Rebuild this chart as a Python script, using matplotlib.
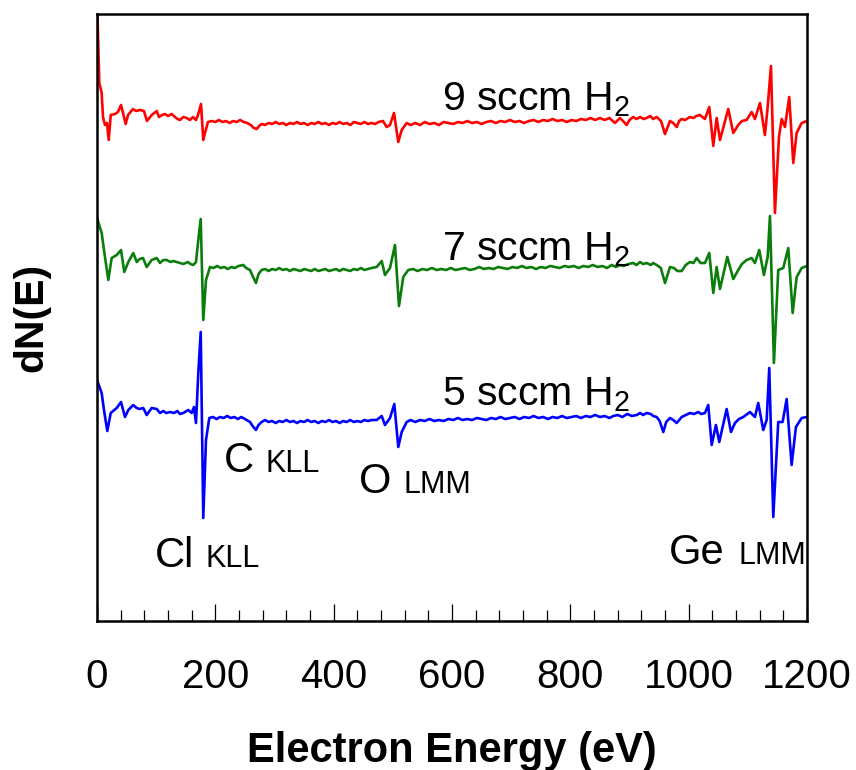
import matplotlib
matplotlib.use("Agg")
import matplotlib.pyplot as plt
from matplotlib.ticker import MultipleLocator

plt.rcParams["font.family"] = ["Liberation Sans", "DejaVu Sans"]
plt.rcParams["mathtext.default"] = "regular"

# Auger spectra (derivative mode): (energy in eV, dN(E) in arbitrary units about each baseline)
spectrum_9 = [
    (0, 125), (3.9, 39), (7.9, 29), (10.1, 5), (13.5, -3), (16.9, -1), (19.8, -18), (23.2, 7),
    (30.4, 8), (35.5, 10), (40.6, 17), (43.9, 9), (48.5, -2), (52.4, 7), (60.8, 13), (66, 11),
    (72.7, 12), (79.4, 11), (84.5, 1), (92.4, 7), (100.9, 11), (104.8, 5), (110, 7), (114.9, 8),
    (120, 6), (126.2, 8), (131.8, 5), (136, 3), (140.3, 2), (146, 5), (151.6, 4), (157, 2),
    (162.2, 5), (167.3, 2), (170.7, 7), (175.8, 18), (179.6, -18), (182.5, -11), (187.6, 0),
    (194, 1), (200, 0), (206, 2), (212, 0), (218, 1), (224, -1), (230, 1), (236, 0), (242, 2),
    (248, 0), (254, -1), (260, -3), (265, -6), (269.9, -7), (274, -4), (278.3, -2), (284, -3),
    (290, -1), (296, -2), (302, 0), (308, -2), (314, -1), (320, -3), (326, -1), (332, -2),
    (338, 0), (344, -2), (350, -1), (356, -3), (362, -1), (368, -2), (374, 0), (380, -2),
    (386, -1), (392, -3), (398, -1), (404, -2), (410, 0), (416, -2), (422, -1), (428, -3),
    (434, 0), (440, -1), (446, -2), (452, 0), (458, -2), (464, -1), (470, -2), (476, 0),
    (483.3, 1), (489.6, -5), (495.2, -3), (502.0, 9), (509.2, -20), (515.0, -8), (523.4, -1),
    (530, -3), (538, -1), (546, -3), (554, 0), (562, -2), (570, -1), (578, -3), (586, 0),
    (594, -1), (602, -2), (610, 0), (618, -1), (626, 1), (634, -1), (642, 0), (650, -2),
    (658, 0), (666, 1), (674, -1), (682, 1), (690, 0), (698, 2), (706, 0), (714, 1), (722, -1),
    (730, 1), (738, 2), (746, 0), (754, 2), (762, 1), (770, 3), (778, 1), (786, 2), (794, 0),
    (802, 2), (810, 1), (818, 3), (826, 2), (834, 4), (842, 2), (850, 4), (858, 2), (866, 4),
    (875.4, -1), (883.9, 4), (889, 1), (895.2, -3), (900, 2), (906.4, 5), (912, 3), (918, 5),
    (924, 3), (929, 4), (935, 6), (940, 3), (945.9, 5), (953.2, 1), (960.0, -12), (968.4, 1),
    (974, -1), (979.7, -5), (984, 1), (988.2, 3), (994, 2), (1002.2, 5), (1008, 4), (1013, 6),
    (1019.1, 7), (1027.5, 3), (1034.8, 15), (1041.6, -24), (1047.3, 4), (1052.9, -18),
    (1066.9, 13), (1075.4, -11), (1083.8, -3), (1090, 1), (1098.0, 2), (1106.4, 10),
    (1112.0, 3), (1120.5, 19), (1128.9, -13), (1133.5, 15), (1139.1, 56), (1145.8, -91),
    (1152.6, -15), (1157.2, 3), (1162.7, -5), (1170.0, 25), (1176.8, -41), (1182.5, -11),
    (1191.0, -1), (1200.0, 1),
]

spectrum_7 = [
    (0, 50), (7.9, 35), (11.8, 18), (19.1, -12), (24.8, 10), (33.3, 13), (40.6, 18), (46.1, -4),
    (52.9, 6), (61.3, 15), (67.1, 6), (72, 9), (77.7, 10), (84.0, 1), (92.4, 8), (100.9, 10),
    (106.5, 5), (112, 8), (117.8, 8), (124, 6), (129, 7), (134.7, 6), (140, 5), (145.8, 4),
    (153.8, 6), (158, 4), (162.7, 3), (167.3, 6), (171.2, 28), (175.3, 49), (179.6, -52),
    (184.2, -12), (191.0, 1), (197, 0), (203, 2), (209, 0), (215, 1), (221, -1), (227, 1),
    (233, 0), (239, 2), (247.2, 3), (252, 0), (258.6, -2), (263, -8), (268.7, -15), (273, -6),
    (278.3, -2), (284, -1), (290, -3), (296, -1), (302, -2), (308, 0), (314, -2), (320, -1),
    (326, -3), (332, -1), (338, -2), (344, -3), (350, -1), (356, -2), (362, -3), (368, -1),
    (374, -3), (380, -2), (386, -1), (392, -3), (398, -2), (404, -1), (410, -3), (416, -1),
    (422, -2), (428, -3), (434, -1), (440, -2), (446, 0), (452, -2), (458, -1), (464, 0),
    (472.7, 1), (481.2, 7), (486.7, -7), (495.2, 0), (503.6, 23), (510.4, -38), (517.6, -9),
    (526.1, -2), (534, -1), (542, -3), (550, -1), (558, -2), (566, 0), (574, -2), (582, -1),
    (590, -2), (598, 0), (606, -2), (614, -1), (622, 0), (630, -2), (638, -1), (646, 1),
    (654, -1), (662, 0), (670, -1), (678, 1), (686, 0), (694, -1), (702, 1), (710, 0), (718, 2),
    (726, 0), (734, 1), (742, -1), (750, 1), (758, 0), (766, 2), (774, 1), (782, 0), (790, 2),
    (798, 1), (806, 2), (814, 0), (822, 2), (830, 1), (838, 3), (846, 1), (854, 2), (862, 0),
    (870, 3), (877, 1), (883.9, 3), (890, 2), (898, 4), (906.4, 5), (912, 3), (917.7, 6),
    (923, 4), (929.0, 5), (936, 3), (940, 5), (945.9, 3), (953, 0), (960.0, -15), (968.4, 1),
    (975, 0), (981, -3), (988.2, -3), (995, 3), (1002.2, 6), (1008, 5), (1013.5, 10),
    (1020, 5), (1027.5, 5), (1034.8, 15), (1041.6, -25), (1047.3, 1), (1052.9, -21),
    (1065.3, 11), (1075.4, -11), (1083.8, -2), (1090, 4), (1098.0, 8), (1106.4, 10),
    (1112.0, 5), (1119.3, 18), (1127.2, -7), (1133.5, 11), (1137.4, 52), (1144.1, -95),
    (1151.4, -2), (1159.9, 0), (1168.3, 20), (1175.8, -45), (1182.5, -9), (1191.0, 0),
    (1200.0, 2),
]

spectrum_5 = [
    (0, 38), (7.9, 25), (11.8, 8), (17.4, -13), (23.2, 5), (33.3, 10), (40.6, 16), (47.3, 1),
    (52.9, 8), (61.3, 13), (67.1, 10), (72, 9), (78.2, 10), (84.0, 3), (92.4, 10), (100.9, 9),
    (106.5, 5), (112, 7), (117, 5), (123.4, 6), (130, 5), (136, 7), (140, 4), (145.8, 5),
    (154.3, 8), (160.0, 5), (163.9, 11), (167.3, -5), (171.2, 45), (175.3, 86), (179.6, -100),
    (184.2, -22), (189.8, 0), (196, 1), (202, -1), (208, 1), (214, 0), (220, 2), (226, 0),
    (232, 1), (238, -1), (244, 1), (250, -1), (258.6, -4), (263, -8), (268.7, -12), (273, -7),
    (278.3, -4), (284, -2), (290, -4), (296, -3), (302, -5), (308, -3), (314, -4), (320, -2),
    (326, -4), (332, -3), (338, -5), (344, -3), (350, -4), (356, -2), (362, -4), (368, -3),
    (374, -5), (380, -3), (386, -4), (392, -2), (398, -4), (404, -3), (410, -5), (416, -3),
    (422, -4), (428, -2), (434, -4), (440, -3), (446, -4), (452, -2), (458, -3), (464, -2),
    (472.7, -2), (481.2, 2), (486.7, -7), (495.2, 0), (502.5, 14), (509.2, -29), (515.0, -14),
    (523.4, -4), (530, -2), (538, -4), (546, -2), (554, -3), (562, -1), (570, -3), (578, -2),
    (586, -3), (594, -1), (602, -2), (610, 0), (618, -2), (626, -1), (634, -2), (642, 0),
    (650, -1), (658, -2), (666, 0), (674, -1), (682, 1), (690, -1), (698, 0), (706, 1),
    (714, -1), (722, 1), (730, 0), (738, 2), (746, 0), (754, 1), (762, -1), (770, 1), (778, 0),
    (786, 2), (794, 0), (802, 1), (810, 2), (818, 0), (826, 2), (834, 1), (842, 3), (850, 1),
    (858, 2), (866, 0), (872.6, 2), (880, 3), (888, 1), (896, 4), (904, 2), (912.1, 3),
    (918, 5), (923, 3), (929.0, 5), (936, 4), (940, 2), (945.9, 1), (951, -3), (957.1, -14),
    (962, -4), (968.4, 0), (974, -2), (979.7, -5), (988.2, 1), (995, 3), (1002.2, 5),
    (1009, 4), (1016.2, 6), (1021, 4), (1027.5, 5), (1033.1, 13), (1038.9, -27), (1046.1, -7),
    (1051.7, -24), (1064.2, 9), (1071.5, -14), (1078.3, -5), (1085, -1), (1092.3, 1),
    (1103.6, 6), (1112.0, 1), (1117.6, 15), (1126.1, -12), (1131.8, -2), (1136.2, 50),
    (1143.0, -99), (1151.4, -4), (1158.8, -4), (1165.6, 19), (1174.0, -47), (1181.3, -9),
    (1191.0, 0), (1200.0, 1),
]

# vertical offsets used to stack the spectra
offsets = {"9": 499, "7": 353, "5": 203}
series = [
    (spectrum_9, offsets["9"], "#ff0000", "9 sccm H$_2$", 511),
    (spectrum_7, offsets["7"], "#0a7d0a", "7 sccm H$_2$", 361),
    (spectrum_5, offsets["5"], "#0000ff", "5 sccm H$_2$", 216),
]

# peak labels: (element, transition, x of element, x of transition, y baseline)
peaks = [
    ("Cl", "KLL", 98, 183, 54),
    ("C", "KLL", 214, 285, 149),
    ("O", "LMM", 442, 518, 128),
    ("Ge", "LMM", 966, 1085, 57),
]

fig = plt.figure(figsize=(8.56, 7.70), dpi=100)
ax = fig.add_axes([97 / 856, 1 - 621 / 770, 710 / 856, 607 / 770])

for spec, off, color, label, ly in series:
    e = [p[0] for p in spec]
    v = [p[1] + off for p in spec]
    ax.plot(e, v, color=color, lw=1.9, solid_joinstyle="round")
    ax.text(583, ly, label, fontsize=29.5, ha="left", va="baseline")

for elem, trans, xe, xt, yb in peaks:
    ax.text(xe, yb, elem, fontsize=30, ha="left", va="baseline")
    ax.text(xt, yb, trans, fontsize=22, ha="left", va="baseline")

ax.set_xlim(0, 1200)
ax.set_ylim(0, 607)
ax.xaxis.set_major_locator(MultipleLocator(200))
ax.xaxis.set_minor_locator(MultipleLocator(40))
ax.tick_params(axis="x", which="major", direction="in", length=12, width=0.9,
               labelsize=29, pad=27, top=False)
ax.tick_params(axis="x", which="minor", direction="in", length=8, width=0.9, top=False)
ax.set_yticks([])
for sp in ax.spines.values():
    sp.set_linewidth(1.8)

ax.set_xlabel("Electron Energy (eV)", fontsize=30, fontweight="bold", va="baseline")
ax.xaxis.set_label_coords(0.5, -0.232)
ax.set_ylabel("dN(E)", fontsize=29.5, fontweight="bold", ha="center", va="center")
ax.yaxis.set_label_coords(-0.092, 0.5)

fig.savefig("out.png", dpi=100)
